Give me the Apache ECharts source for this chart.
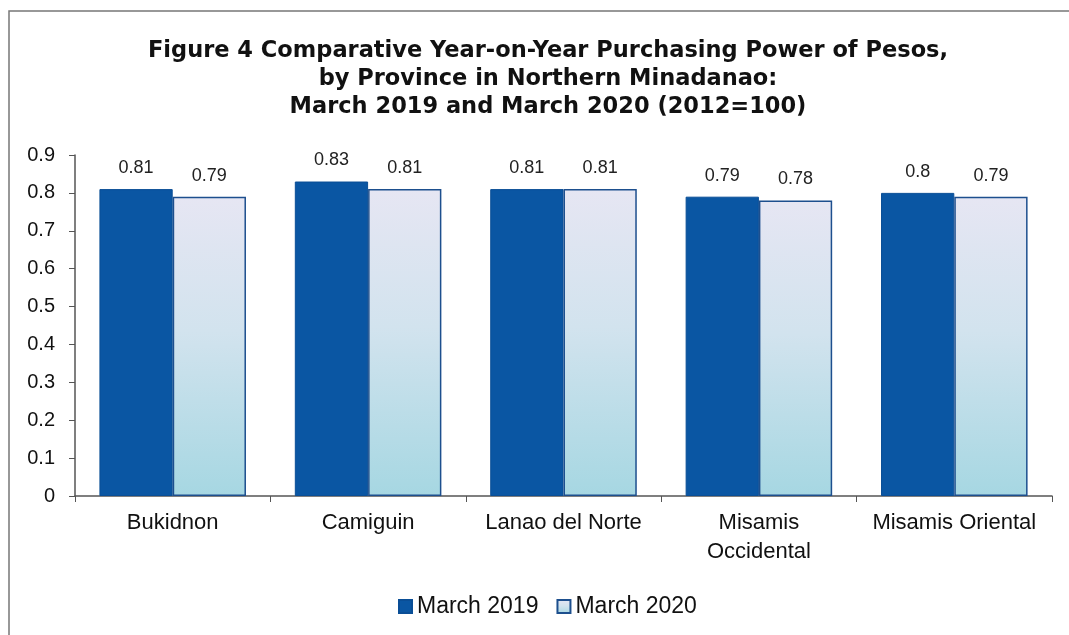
<!DOCTYPE html>
<html><head><meta charset="utf-8">
<script src="https://cdn.jsdelivr.net/npm/echarts@6/dist/echarts.min.js"></script>
<style>html,body{margin:0;padding:0;background:#fff;}#c{width:1069px;height:635px;}</style>
</head><body><div id="c"></div>
<script>
const categories = ['Bukidnon', 'Camiguin', 'Lanao del Norte', 'Misamis\nOccidental', 'Misamis Oriental'];
const march2019 = [0.81, 0.83, 0.81, 0.79, 0.80];
const march2020 = [0.79, 0.81, 0.81, 0.78, 0.79];
const yTicks = [0, 0.1, 0.2, 0.3, 0.4, 0.5, 0.6, 0.7, 0.8, 0.9];

const chart = echarts.init(document.getElementById('c'), null, {renderer: 'canvas'});
const font = 'Liberation Sans, Arial, sans-serif';
chart.setOption({
  animation: false,
  backgroundColor: '#fff',
  graphic: [{
    type: 'polyline', shape: {points: [[9, 635], [9, 11], [1069, 11]]},
    style: {stroke: '#777', lineWidth: 1.5, fill: null}, silent: true
  }],
  title: {
    text: 'Figure 4 Comparative Year-on-Year Purchasing Power of Pesos,\nby Province in Northern Minadanao:\nMarch 2019 and March 2020 (2012=100)',
    left: 543, top: 32, textAlign: 'center',
    textStyle: {fontFamily: 'DejaVu Sans', fontWeight: 'bold', fontSize: 22.5, lineHeight: 28, color: '#111'}
  },
  legend: {
    data: ['March 2019', 'March 2020'],
    left: 393, top: 590, icon: 'rect', itemWidth: 13, itemHeight: 13, itemGap: 18,
    textStyle: {fontFamily: font, fontSize: 23, color: '#111'}
  },
  grid: {left: 75, right: 17, top: 155, bottom: 139, containLabel: false},
  xAxis: {
    type: 'category', data: categories,
    axisLine: {lineStyle: {color: '#555', width: 1.5}},
    axisTick: {show: true, alignWithLabel: false, length: 6, lineStyle: {color: '#555'}},
    axisLabel: {fontFamily: font, fontSize: 22, color: '#111', margin: 12, lineHeight: 29, interval: 0}
  },
  yAxis: {
    type: 'value', min: 0, max: 0.9, interval: 0.1,
    splitLine: {show: false},
    axisLine: {show: true, lineStyle: {color: '#555', width: 1.5}},
    axisTick: {show: true, length: 6, lineStyle: {color: '#555'}},
    axisLabel: {fontFamily: font, fontSize: 20, color: '#111', margin: 20,
      formatter: v => { const t = yTicks.find(x => Math.abs(x - v) < 1e-9); return t === undefined ? '' : String(t); }}
  },
  series: [{
    name: 'March 2019', type: 'bar', data: march2019,
    barGap: '0%', barCategoryGap: '25%',
    itemStyle: {color: '#0a56a3', borderColor: '#0a4e96', borderWidth: 1},
    label: {show: true, position: 'top', distance: 12, fontFamily: font, fontSize: 18, color: '#222'}
  }, {
    name: 'March 2020', type: 'bar', data: march2020,
    itemStyle: {
      color: {type: 'linear', x: 0, y: 0, x2: 0, y2: 1, colorStops: [
        {offset: 0, color: '#e6e6f3'}, {offset: 0.45, color: '#d2e3ee'}, {offset: 1, color: '#a6d7e2'}]},
      borderColor: '#1d4f8e', borderWidth: 1.5
    },
    label: {show: true, position: 'top', distance: 12, fontFamily: font, fontSize: 18, color: '#222'}
  }]
});
</script></body></html>
